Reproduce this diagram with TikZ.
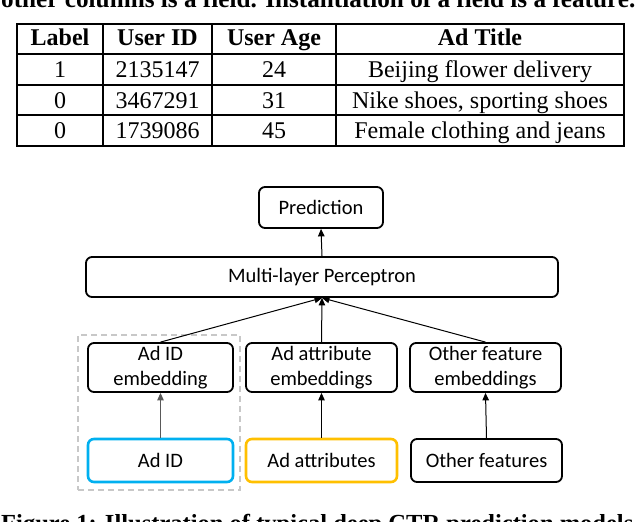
\documentclass[tikz,border=0pt]{standalone}
\usepackage{fontspec}
\usepackage{graphicx}
\setmainfont{Liberation Serif}
\newfontfamily\diagfont{Carlito}
\usetikzlibrary{arrows.meta}
\definecolor{idblue}{HTML}{00B0F0}
\definecolor{attrgold}{HTML}{FFC000}
\definecolor{dashgray}{HTML}{C8C8C8}
\begin{document}
\begin{tikzpicture}[x=1pt,y=-1pt,
  tline/.style={line width=1.3pt},
  cell/.style={anchor=base, inner sep=0pt, font=\fontsize{24}{28}\selectfont},
  hcell/.style={anchor=base, inner sep=0pt, font=\fontsize{24}{28}\selectfont\bfseries},
  box/.style={draw, line width=1.8pt, rounded corners=6pt, align=center, inner sep=0pt,
    font=\diagfont\fontsize{20.5}{25}\selectfont},
  arr/.style={-{Triangle[length=7.5pt,width=6.5pt]}, line width=1pt}]
\useasboundingbox (0,0) rectangle (640,522);
\fill[white] (0,0) rectangle (640,522);

% cut-off text above and below
\node[anchor=base west, inner sep=0pt] (toptext) at (1,7)
  {\resizebox{634pt}{!}{\bfseries other columns is a field. Instantiation of a field is a feature.}};
\node[anchor=base west, inner sep=0pt] (caption) at (1,531)
  {\resizebox{632pt}{!}{\bfseries Figure 1: Illustration of typical deep CTR prediction models}};

% table
\draw[tline] (17,24) rectangle (624,146);
\draw[tline] (17,54) -- (624,54);
\draw[tline] (17,85) -- (624,85);
\draw[tline] (17,115) -- (624,115);
\draw[tline] (103,24) -- (103,146);
\draw[tline] (212,24) -- (212,146);
\draw[tline] (336,24) -- (336,146);

\node[hcell] (h1) at (60,45) {Label};
\node[hcell] (h2) at (157.5,45) {User ID};
\node[hcell] (h3) at (274,45) {User Age};
\node[hcell] (h4) at (480,45) {Ad Title};

\node[cell] (r1a) at (60,77.5) {1};
\node[cell] (r1b) at (157.5,77.5) {2135147};
\node[cell] (r1c) at (274,77.5) {24};
\node[cell] (r1d) at (480,77.5) {Beijing flower delivery};

\node[cell] (r2a) at (60,108) {0};
\node[cell] (r2b) at (157.5,108) {3467291};
\node[cell] (r2c) at (274,108) {31};
\node[cell] (r2d) at (480,108) {Nike shoes, sporting shoes};

\node[cell] (r3a) at (60,138.5) {0};
\node[cell] (r3b) at (157.5,138.5) {1739086};
\node[cell] (r3c) at (274,138.5) {45};
\node[cell] (r3d) at (480,138.5) {Female clothing and jeans};

% diagram
\node[draw=dashgray, dashed, dash pattern=on 6pt off 4pt, line width=1.3pt,
  minimum width=162pt, minimum height=155pt, inner sep=0pt] (group) at (159,412.5) {};

\node[box, minimum width=124pt, minimum height=41pt] (pred) at (321,207.5) {Prediction};
\node[box, minimum width=472pt, minimum height=40pt] (mlp) at (322,277) {Multi-layer Perceptron};

\node[box, minimum width=145pt, minimum height=49pt] (ade) at (160.5,367.5) {Ad ID\\embedding};
\node[box, minimum width=151pt, minimum height=49pt] (atte) at (321.5,367.5) {Ad attribute\\embeddings};
\node[box, minimum width=151pt, minimum height=49pt] (othe) at (485.5,367.5) {Other feature\\embeddings};

\node[box, draw=idblue, line width=2.6pt, minimum width=145pt, minimum height=43pt] (adid) at (160.5,460.5) {Ad ID};
\node[box, draw=attrgold, line width=2.6pt, minimum width=151pt, minimum height=43pt] (attr) at (321.5,460.5) {Ad attributes};
\node[box, minimum width=151pt, minimum height=43pt] (oth) at (486.5,460.5) {Other features};

\draw[arr] (mlp.north) -- (pred.south);
\draw[arr] (ade.north) -- (mlp.south);
\draw[arr] (atte.north) -- (mlp.south);
\draw[arr] (othe.north) -- (mlp.south);
\draw[arr, draw=black!65, fill=black] (adid.north) -- (ade.south);
\draw[arr] (attr.north) -- (atte.south);
\draw[arr] (oth.north) -- (othe.south);
\end{tikzpicture}
\end{document}
